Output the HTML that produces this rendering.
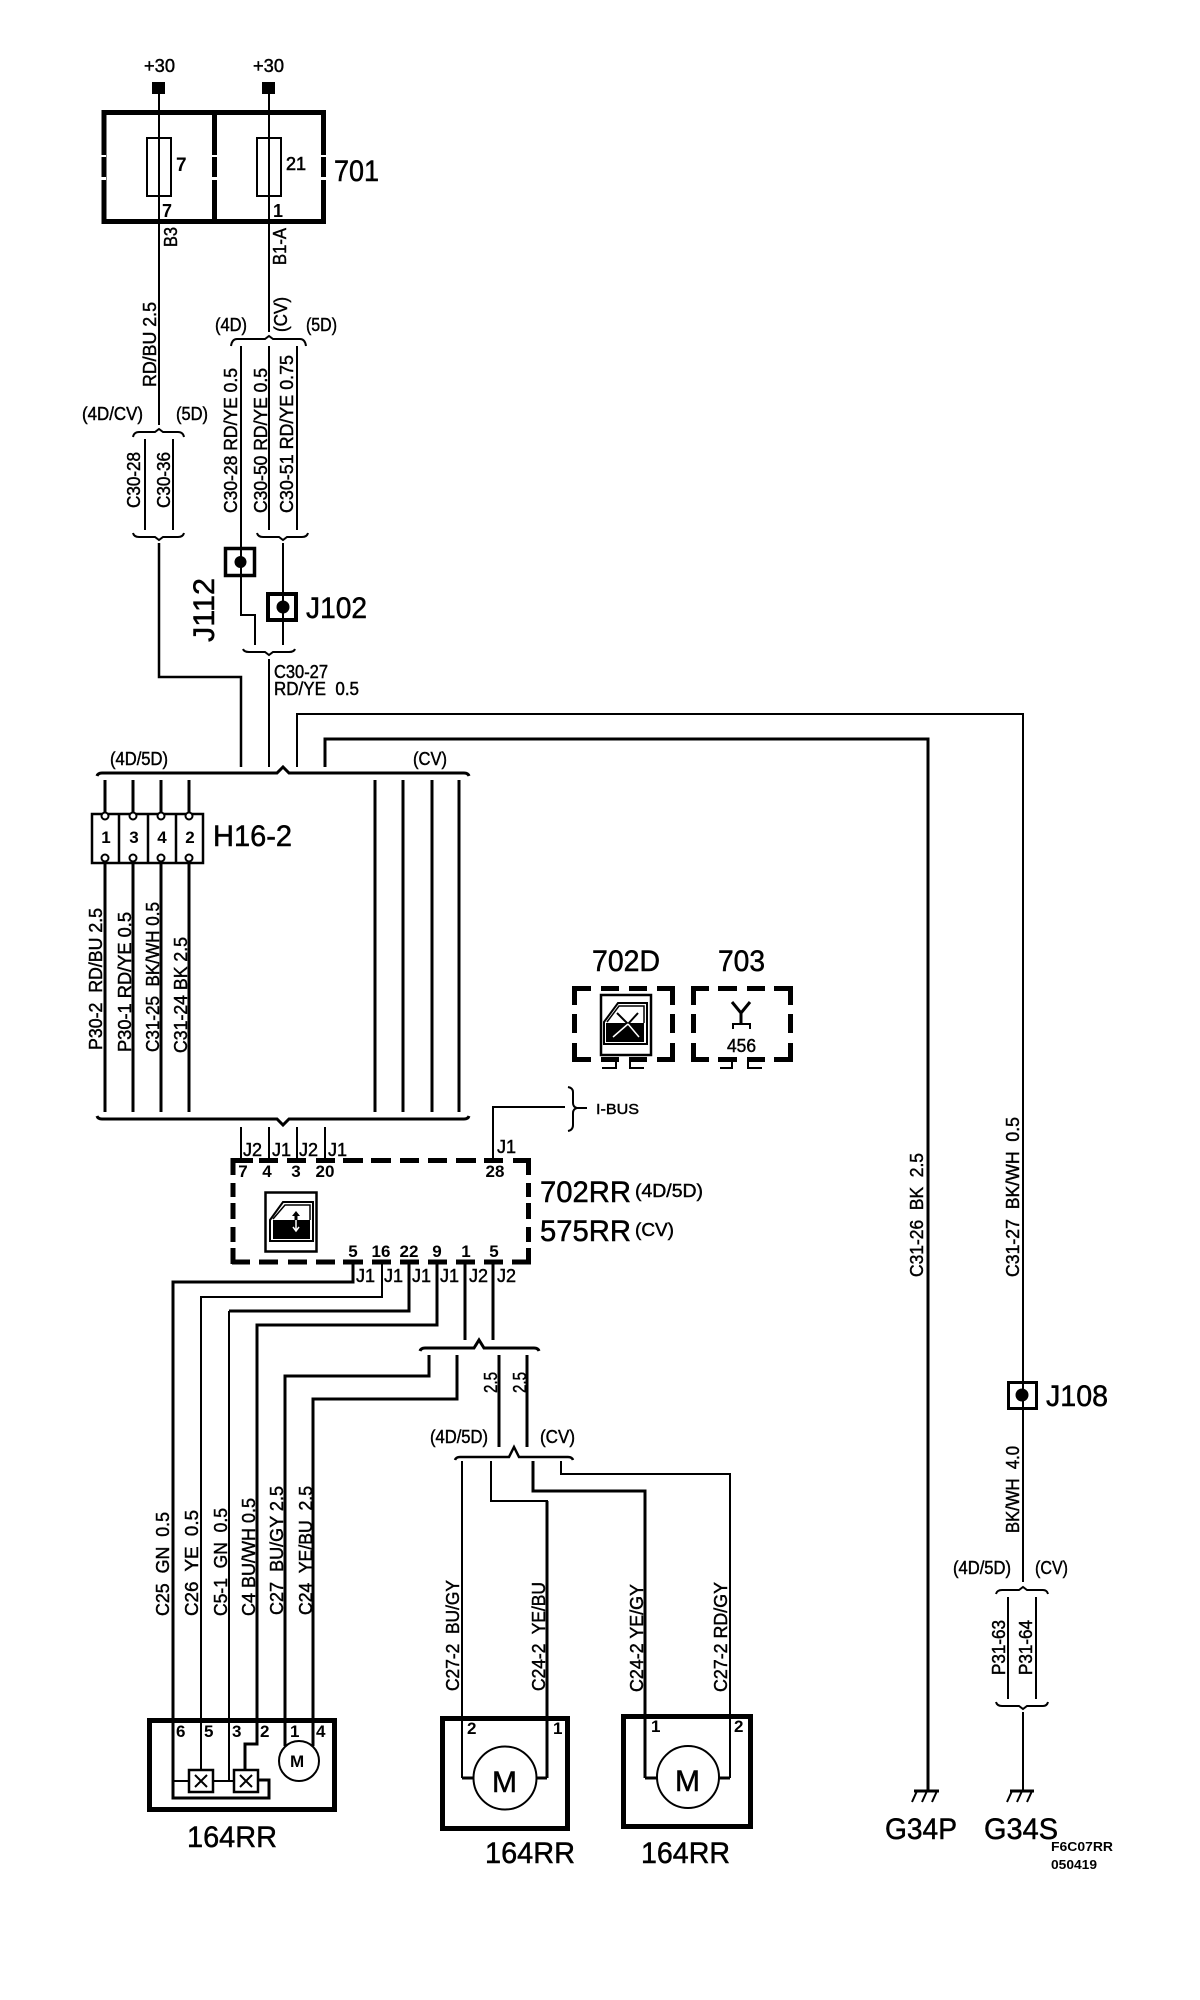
<!DOCTYPE html>
<html>
<head>
<meta charset="utf-8">
<style>
html,body{margin:0;padding:0;background:#fff}
svg{display:block}
text{font-family:"Liberation Sans",sans-serif;fill:#000;white-space:pre}
.s{font-size:18px;stroke:#000;stroke-width:.45}
.n{font-size:17px;font-weight:bold}
.b{font-size:30px;stroke:#000;stroke-width:.5}
.l{fill:none;stroke:#000;stroke-width:2}
.m{fill:none;stroke:#000;stroke-width:3}
.k{fill:none;stroke:#000;stroke-width:5}
</style>
</head>
<body>
<svg width="1200" height="2000" viewBox="0 0 1200 2000" xmlns="http://www.w3.org/2000/svg">
<rect width="1200" height="2000" fill="#fff"/>

<!-- top feed -->
<rect x="152" y="82" width="13" height="12"/><rect x="262" y="82" width="13" height="12"/>
<text x="144" y="72" class="s" textLength="31" lengthAdjust="spacingAndGlyphs">+30</text>
<text x="253" y="72" class="s" textLength="31" lengthAdjust="spacingAndGlyphs">+30</text>
<path class="k" d="M104 112.500H324M104 221.500H324M104 110V224M214.500 110V224M323.500 110V224"/>
<path fill="#fff" d="M100 155h6v2h-6zM100 177h6v3h-6zM211 155h7v2h-7zM211 177h7v3h-7zM319 155h8v2h-8zM319 177h8v3h-8z"/>
<rect class="l" x="147" y="138" width="24" height="58"/><rect class="l" x="257" y="138" width="24" height="58"/>
<path class="l" d="M159 94V425M269 94V332"/>
<text x="176" y="171" class="n" style="font-size:19px">7</text>
<text x="286" y="170" class="n" style="font-size:18px;font-weight:normal;stroke:#000;stroke-width:.6">21</text>
<text x="162" y="217" class="n" style="font-size:18px">7</text>
<text x="273" y="217" class="n" style="font-size:18px">1</text>
<text x="334" y="181" class="b" textLength="45" lengthAdjust="spacingAndGlyphs">701</text>
<text transform="translate(177 247) rotate(-90)" class="s" textLength="20" lengthAdjust="spacingAndGlyphs">B3</text>
<text transform="translate(286 265) rotate(-90)" class="s" textLength="37" lengthAdjust="spacingAndGlyphs">B1-A</text>
<text transform="translate(156 387) rotate(-90)" class="s" textLength="85" lengthAdjust="spacingAndGlyphs">RD/BU 2.5</text>
<text x="215" y="331" class="s" textLength="32" lengthAdjust="spacingAndGlyphs">(4D)</text>
<text transform="translate(287 332) rotate(-90)" class="s" textLength="35" lengthAdjust="spacingAndGlyphs">(CV)</text>
<text x="306" y="331" class="s" textLength="31" lengthAdjust="spacingAndGlyphs">(5D)</text>

<!-- upper braces -->
<path class="l" d="M231 346Q232 339 237 339H265L269 336L273 339H300Q305 339 306 346"/>
<path class="l" d="M241 346V615H255V645M269 346V530M297 346V530"/>
<text x="82" y="420" class="s" textLength="61" lengthAdjust="spacingAndGlyphs">(4D/CV)</text>
<text x="176" y="420" class="s" textLength="32" lengthAdjust="spacingAndGlyphs">(5D)</text>
<path class="l" d="M133 437Q134 432 139 432H155L159 429L163 432H178Q183 432 184 437"/>
<path class="l" d="M145 439V530M173 439V530"/>
<path class="l" d="M133 533Q134 537 139 537H155L159 540L163 537H178Q183 537 184 533"/>
<path class="l" style="stroke-width:2.500px" d="M159 543V677H241V767"/>
<text transform="translate(140 508) rotate(-90)" class="s" textLength="56" lengthAdjust="spacingAndGlyphs">C30-28</text>
<text transform="translate(170 508) rotate(-90)" class="s" textLength="56" lengthAdjust="spacingAndGlyphs">C30-36</text>
<text transform="translate(237 513) rotate(-90)" class="s" textLength="145" lengthAdjust="spacingAndGlyphs">C30-28 RD/YE 0.5</text>
<text transform="translate(267 513) rotate(-90)" class="s" textLength="145" lengthAdjust="spacingAndGlyphs">C30-50 RD/YE 0.5</text>
<text transform="translate(293 513) rotate(-90)" class="s" textLength="158" lengthAdjust="spacingAndGlyphs">C30-51 RD/YE 0.75</text>
<path class="l" d="M257 533Q258 537 263 537H279L283 540L287 537H302Q307 537 308 533"/>
<path class="l" d="M283 543V645"/>
<rect x="225.500" y="548.500" width="29" height="27" fill="#fff" stroke="#000" stroke-width="3.500"/>
<path class="l" d="M241 548V577"/><circle cx="240.500" cy="562" r="6"/>
<rect x="268" y="594" width="28" height="26" fill="#fff" stroke="#000" stroke-width="4"/>
<path class="l" d="M283 594V620"/><circle cx="283" cy="607" r="6.500"/>
<text x="306" y="618" class="b" textLength="61" lengthAdjust="spacingAndGlyphs">J102</text>
<text transform="translate(214 642) rotate(-90)" class="b" textLength="64" lengthAdjust="spacingAndGlyphs">J112</text>
<path class="l" d="M243 649Q244 652 249 652H265L269 655L273 652H289Q294 652 295 649"/>
<path class="l" d="M269 659V767"/>
<text x="274" y="678" class="s" textLength="54" lengthAdjust="spacingAndGlyphs">C30-27</text>
<text x="274" y="695" class="s" textLength="85" lengthAdjust="spacingAndGlyphs">RD/YE  0.5</text>
<path class="l" d="M297 767V714H1023V1582"/>
<path class="m" d="M325 767V739H928V1790"/>

<!-- big brace -->
<text x="110" y="765" class="s" textLength="58" lengthAdjust="spacingAndGlyphs">(4D/5D)</text>
<text x="413" y="765" class="s" textLength="34" lengthAdjust="spacingAndGlyphs">(CV)</text>
<path class="m" d="M97 776Q98 773 102 773H277L283 767L289 773H464Q468 773 469 776"/>
<path class="m" d="M105 780V813M133 780V813M161 780V813M189 780V813M105 864V1112M133 864V1112M161 864V1112M189 864V1112M375 780V1112M403 780V1112M432 780V1112M459 780V1112"/>

<!-- H16-2 -->
<rect x="92" y="814" width="111" height="49" fill="#fff" stroke="#000" stroke-width="2.500"/>
<path class="l" style="stroke-width:2.500px" d="M119 814V863M148 814V863M176 814V863"/>
<g fill="#fff" stroke="#000" stroke-width="2">
<circle cx="105" cy="816" r="3.500"/><circle cx="133" cy="816" r="3.500"/><circle cx="161" cy="816" r="3.500"/><circle cx="189" cy="816" r="3.500"/>
<circle cx="105" cy="858" r="3.500"/><circle cx="133" cy="858" r="3.500"/><circle cx="161" cy="858" r="3.500"/><circle cx="189" cy="858" r="3.500"/>
</g>
<g class="n" text-anchor="middle"><text x="106" y="843">1</text><text x="134" y="843">3</text><text x="162" y="843">4</text><text x="190" y="843">2</text></g>
<text x="213" y="846" class="b" textLength="79" lengthAdjust="spacingAndGlyphs">H16-2</text>
<text transform="translate(102 1050) rotate(-90)" class="s" textLength="142" lengthAdjust="spacingAndGlyphs">P30-2  RD/BU 2.5</text>
<text transform="translate(131 1052) rotate(-90)" class="s" textLength="140" lengthAdjust="spacingAndGlyphs">P30-1 RD/YE 0.5</text>
<text transform="translate(159 1052) rotate(-90)" class="s" textLength="150" lengthAdjust="spacingAndGlyphs">C31-25  BK/WH 0.5</text>
<text transform="translate(187 1053) rotate(-90)" class="s" textLength="116" lengthAdjust="spacingAndGlyphs">C31-24 BK 2.5</text>
<path class="m" d="M97 1116Q98 1119 102 1119H277L283 1125L289 1119H464Q468 1119 469 1116"/>
<path class="l" d="M241 1127V1160M269 1127V1160M297 1127V1160M325 1127V1160"/>
<g class="s">
<text x="243" y="1156">J2</text><text x="272" y="1156">J1</text><text x="299" y="1156">J2</text><text x="328" y="1156">J1</text><text x="497" y="1153">J1</text>
</g>
<g class="n" text-anchor="middle">
<text x="243" y="1177">7</text><text x="267" y="1177">4</text><text x="296" y="1177">3</text><text x="325" y="1177">20</text><text x="495" y="1177">28</text>
</g>
<path class="l" d="M493 1160V1107H565"/>
<path class="l" d="M568 1087Q573 1088 573 1092V1103Q573 1107 577 1108Q573 1109 573 1113V1125Q573 1130 568 1131M577 1108H587"/>
<text x="596" y="1114" class="s" style="font-size:15px" textLength="43" lengthAdjust="spacingAndGlyphs">I-BUS</text>

<!-- 702D and 703 -->
<text x="592" y="971" class="b" textLength="68" lengthAdjust="spacingAndGlyphs">702D</text>
<text x="718" y="971" class="b" textLength="47" lengthAdjust="spacingAndGlyphs">703</text>
<path class="k" d="M572 988.500H591M601 988.500H619M629 988.500H647M657 988.500H675M574.500 986V1005M574.500 1014V1033M574.500 1043V1062M672.500 986V1005M672.500 1014V1033M672.500 1043V1062M572 1059.500H591M601 1059.500H619M629 1059.500H647M657 1059.500H675"/>
<rect x="601" y="995" width="50" height="60" fill="#fff" stroke="#000" stroke-width="2.500"/>
<path fill="#fff" stroke="#000" stroke-width="2" d="M604 1044V1022L618 1003H647V1044Z"/>
<path class="l" style="stroke-width:1.500px" d="M607 1022L619 1006H644V1023"/>
<rect x="606" y="1023" width="38" height="19"/>
<path class="l" d="M638 1013L628 1024M617 1013L628 1024"/>
<path fill="none" stroke="#fff" stroke-width="1.500" d="M628 1024L613 1037M628 1024L639 1037"/>
<path class="l" d="M602 1068H616V1062M630 1062V1068H644"/>
<path class="k" d="M691 988.500H709M718 988.500H737M747 988.500H765M774 988.500H793M693.500 986V1005M693.500 1014V1033M693.500 1043V1062M790.500 986V1005M790.500 1014V1033M790.500 1043V1062M691 1059.500H709M718 1059.500H737M747 1059.500H765M774 1059.500H793"/>
<path class="m" d="M732 1002L741 1013L750 1002M741 1012V1024"/>
<path class="l" d="M733 1029V1024H750V1029"/>
<path class="l" d="M720 1068H732V1062M748 1062V1068H762"/>
<text x="727" y="1052" class="s" textLength="29" lengthAdjust="spacingAndGlyphs">456</text>

<!-- 702RR -->
<path class="k" d="M232 1160.500H253M259 1160.500H278M287 1160.500H306M316 1160.500H335M343 1160.500H363M371 1160.500H391M400 1160.500H419M428 1160.500H447M456 1160.500H476M484 1160.500H503M513 1160.500H531
M233 1158V1175M233 1183V1197M233 1203V1219M233 1227V1242M233 1248V1264M528.500 1158V1175M528.500 1183V1197M528.500 1203V1219M528.500 1227V1242M528.500 1248V1264
M232 1262H250M259 1262H278M288 1262H307M316 1262H335M343 1262H363M372 1262H391M400 1262H419M428 1262H447M456 1262H475M484 1262H503M512 1262H531"/>
<rect x="265.500" y="1192.500" width="51" height="59" fill="#fff" stroke="#000" stroke-width="2.500"/>
<path fill="#fff" stroke="#000" stroke-width="2" d="M270 1241V1220L283 1202H313V1241Z"/>
<path class="l" style="stroke-width:1.500px" d="M273 1219L285 1205H310V1220"/>
<rect x="273" y="1220" width="37" height="19"/>
<path d="M296 1211L300 1216H297.500V1220H294.500V1216H292Z"/>
<path fill="none" stroke="#fff" stroke-width="1.500" d="M296 1220V1230M293 1227L296 1231L299 1227"/>
<text x="540" y="1202" class="b" textLength="91" lengthAdjust="spacingAndGlyphs">702RR</text>
<text x="635" y="1197" class="s" textLength="68" lengthAdjust="spacingAndGlyphs">(4D/5D)</text>
<text x="540" y="1241" class="b" textLength="91" lengthAdjust="spacingAndGlyphs">575RR</text>
<text x="635" y="1236" class="s" textLength="39" lengthAdjust="spacingAndGlyphs">(CV)</text>
<g class="n" text-anchor="middle">
<text x="353" y="1257">5</text><text x="381" y="1257">16</text><text x="409" y="1257">22</text><text x="437" y="1257">9</text><text x="466" y="1257">1</text><text x="494" y="1257">5</text>
</g>
<g class="s">
<text x="356" y="1282">J1</text><text x="384" y="1282">J1</text><text x="412" y="1282">J1</text><text x="440" y="1282">J1</text><text x="469" y="1282">J2</text><text x="497" y="1282">J2</text>
</g>

<!-- lower wires -->
<path class="m" d="M353 1262V1282H173V1798H269V1780H258"/>
<path class="l" d="M382 1262V1297H201V1769"/>
<path class="m" d="M409 1262V1311H229"/>
<path class="l" d="M229 1311V1781"/>
<path class="m" d="M437 1262V1325H257V1744H245V1769"/>
<path class="m" d="M465 1262V1340M493 1262V1340"/>
<path class="m" d="M420 1351Q421 1348 425 1348H474L479 1340L484 1348H534Q538 1348 539 1351"/>
<path class="m" d="M429 1355V1376H285V1746M457 1355V1399H313V1746"/>
<path class="m" d="M499 1355V1447M527 1355V1447"/>
<text transform="translate(497 1393) rotate(-90)" class="s" textLength="21" lengthAdjust="spacingAndGlyphs">2.5</text>
<text transform="translate(526 1393) rotate(-90)" class="s" textLength="21" lengthAdjust="spacingAndGlyphs">2.5</text>
<text x="430" y="1443" class="s" textLength="58" lengthAdjust="spacingAndGlyphs">(4D/5D)</text>
<text x="540" y="1443" class="s" textLength="35" lengthAdjust="spacingAndGlyphs">(CV)</text>
<path class="l" style="stroke-width:2.500px" d="M455 1460Q456 1457 460 1457H509L514 1447L519 1457H568Q572 1457 573 1460"/>
<path class="l" d="M462 1461V1778"/>
<path class="l" d="M491 1461V1501H548"/>
<path class="m" d="M547 1501V1778"/>
<path class="m" d="M533 1461V1491H645V1778"/>
<path class="l" d="M561 1461V1474H730V1778"/>

<text transform="translate(169 1616) rotate(-90)" class="s" textLength="104" lengthAdjust="spacingAndGlyphs">C25  GN  0.5</text>
<text transform="translate(198 1616) rotate(-90)" class="s" textLength="106" lengthAdjust="spacingAndGlyphs">C26  YE  0.5</text>
<text transform="translate(227 1616) rotate(-90)" class="s" textLength="108" lengthAdjust="spacingAndGlyphs">C5-1  GN  0.5</text>
<text transform="translate(255 1616) rotate(-90)" class="s" textLength="118" lengthAdjust="spacingAndGlyphs">C4 BU/WH 0.5</text>
<text transform="translate(283 1615) rotate(-90)" class="s" textLength="129" lengthAdjust="spacingAndGlyphs">C27  BU/GY 2.5</text>
<text transform="translate(312 1615) rotate(-90)" class="s" textLength="129" lengthAdjust="spacingAndGlyphs">C24  YE/BU  2.5</text>
<text transform="translate(459 1691) rotate(-90)" class="s" textLength="111" lengthAdjust="spacingAndGlyphs">C27-2  BU/GY</text>
<text transform="translate(545 1691) rotate(-90)" class="s" textLength="109" lengthAdjust="spacingAndGlyphs">C24-2  YE/BU</text>
<text transform="translate(643 1692) rotate(-90)" class="s" textLength="108" lengthAdjust="spacingAndGlyphs">C24-2 YE/GY</text>
<text transform="translate(727 1692) rotate(-90)" class="s" textLength="110" lengthAdjust="spacingAndGlyphs">C27-2 RD/GY</text>

<!-- motor 1 -->
<rect x="149.500" y="1720.500" width="185" height="89" class="k"/>
<g class="n"><text x="176" y="1737">6</text><text x="204" y="1737">5</text><text x="232" y="1737">3</text><text x="260" y="1737">2</text><text x="290" y="1737">1</text><text x="316" y="1737">4</text></g>
<path class="l" d="M173 1781H188M213 1781H233"/>
<rect x="189" y="1770" width="24" height="22" fill="#fff" stroke="#000" stroke-width="2.500"/>
<rect x="234" y="1770" width="24" height="22" fill="#fff" stroke="#000" stroke-width="2.500"/>
<path class="l" d="M195 1775L207 1787M207 1775L195 1787M240 1775L252 1787M252 1775L240 1787"/>
<circle cx="299" cy="1761" r="20" fill="#fff" stroke="#000" stroke-width="2"/>
<text x="290" y="1767" class="n">M</text>
<text x="187" y="1847" class="b" textLength="90" lengthAdjust="spacingAndGlyphs">164RR</text>

<!-- motor 2 -->
<rect x="442.500" y="1718.500" width="125" height="110" class="k"/>
<path class="m" d="M462 1778H474M536 1778H547"/>
<circle cx="505" cy="1778" r="31.500" fill="#fff" stroke="#000" stroke-width="2"/>
<text x="467" y="1734" class="n">2</text><text x="553" y="1734" class="n">1</text>
<text x="492" y="1792" class="b" textLength="25" lengthAdjust="spacingAndGlyphs">M</text>
<text x="485" y="1863" class="b" textLength="90" lengthAdjust="spacingAndGlyphs">164RR</text>

<!-- motor 3 -->
<rect x="623.500" y="1716.500" width="127" height="110" class="k"/>
<path class="m" d="M645 1778H657M719 1778H730"/>
<circle cx="688" cy="1777" r="31" fill="#fff" stroke="#000" stroke-width="2"/>
<text x="651" y="1732" class="n">1</text><text x="734" y="1732" class="n">2</text>
<text x="675" y="1791" class="b" textLength="25" lengthAdjust="spacingAndGlyphs">M</text>
<text x="641" y="1863" class="b" textLength="89" lengthAdjust="spacingAndGlyphs">164RR</text>

<!-- right side -->
<text transform="translate(923 1277) rotate(-90)" class="s" textLength="124" lengthAdjust="spacingAndGlyphs">C31-26  BK  2.5</text>
<text transform="translate(1019 1277) rotate(-90)" class="s" textLength="160" lengthAdjust="spacingAndGlyphs">C31-27  BK/WH  0.5</text>
<rect x="1008.500" y="1382.500" width="28" height="26" fill="#fff" stroke="#000" stroke-width="3"/>
<path class="l" d="M1023 1382V1409"/><circle cx="1022" cy="1395" r="6.500"/>
<text x="1046" y="1406" class="b" textLength="62" lengthAdjust="spacingAndGlyphs">J108</text>
<text transform="translate(1019 1533) rotate(-90)" class="s" textLength="87" lengthAdjust="spacingAndGlyphs">BK/WH  4.0</text>
<text x="953" y="1574" class="s" textLength="58" lengthAdjust="spacingAndGlyphs">(4D/5D)</text>
<text x="1035" y="1574" class="s" textLength="33" lengthAdjust="spacingAndGlyphs">(CV)</text>
<path class="l" d="M996 1594Q997 1590 1002 1590H1019L1023 1587L1027 1590H1043Q1047 1590 1048 1594"/>
<path class="l" d="M1008 1597V1699M1036 1597V1699"/>
<path class="l" d="M996 1702Q997 1706 1002 1706H1019L1023 1709L1027 1706H1043Q1047 1706 1048 1702"/>
<path class="l" d="M1023 1712V1790"/>
<text transform="translate(1005 1675) rotate(-90)" class="s" textLength="55" lengthAdjust="spacingAndGlyphs">P31-63</text>
<text transform="translate(1032 1675) rotate(-90)" class="s" textLength="55" lengthAdjust="spacingAndGlyphs">P31-64</text>
<path class="m" d="M914 1791H939M1010 1791H1034"/>
<path class="l" d="M917 1791L912 1802M927 1791L922 1802M937 1791L932 1802M1012 1791L1007 1802M1022 1791L1017 1802M1032 1791L1027 1802"/>
<text x="885" y="1839" class="b" textLength="72" lengthAdjust="spacingAndGlyphs">G34P</text>
<text x="984" y="1839" class="b" textLength="74" lengthAdjust="spacingAndGlyphs">G34S</text>
<text x="1051" y="1851" style="font-size:13px;font-weight:bold" textLength="62" lengthAdjust="spacingAndGlyphs">F6C07RR</text>
<text x="1051" y="1869" style="font-size:13px;font-weight:bold" textLength="46" lengthAdjust="spacingAndGlyphs">050419</text>
</svg>
</body>
</html>
